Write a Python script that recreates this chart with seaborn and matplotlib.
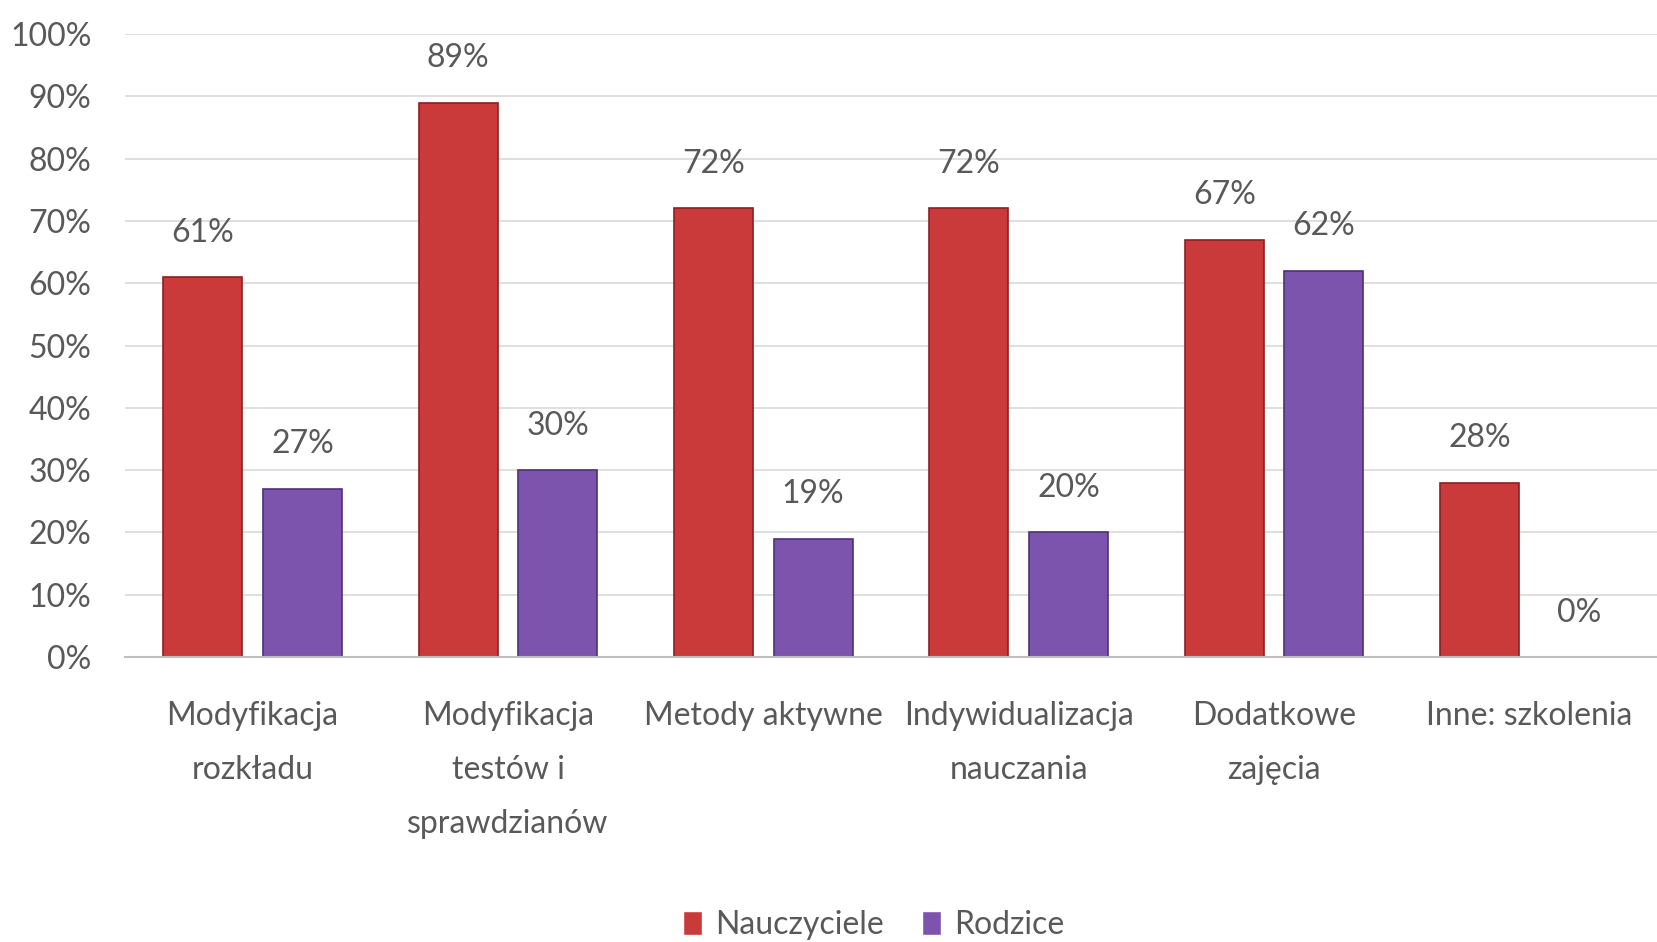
import pandas as pd
from matplotlib import pyplot as plt
import numpy as np
import seaborn as sns

# dane
kategorie = ["Modyfikacja\nrozkładu", "Modyfikacja\ntestów i\nsprawdzianów", "Metody aktywne",
             "Indywidualizacja\nnauczania", "Dodatkowe\nzajęcia", "Inne: szkolenia"]
nauczyciele = [0.61, 0.89, 0.72, 0.72, 0.67, 0.28]
rodzice = [0.27, 0.30, 0.19, 0.20, 0.62, 0.00]
serie = ["Nauczyciele", "Rodzice"]
kolory = ["#CB3A3A", "#7C54AE"]
krawedzie = ["#8E1F22", "#4E3275"]

df = pd.DataFrame({
    "kategoria": kategorie * 2,
    "seria": [serie[0]] * len(kategorie) + [serie[1]] * len(kategorie),
    "wartosc": nauczyciele + rodzice,
})

sns.set_style("white")
plt.rcParams["font.family"] = ["Lato", "DejaVu Sans"]
szary = "#595959"
fs = 23

fig = plt.figure(figsize=(16.57, 9.42), dpi=100)
ax = fig.add_axes([0.0754, 0.3025, 0.9246, 0.6614])

sns.barplot(data=df, x="kategoria", y="wartosc", hue="seria", palette=kolory,
            saturation=1, width=0.78, ax=ax, legend=True)

# zwęż słupki, zostaw odstęp
for i, cont in enumerate(ax.containers):
    for p, v in zip(cont.patches, [nauczyciele, rodzice][i]):
        c = p.get_x() + p.get_width() / 2
        p.set_width(0.31)
        p.set_x(c - 0.155)
        p.set_edgecolor(krawedzie[i])
        p.set_linewidth(1.2)
        ax.annotate(f"{v:.0%}", (c, v), xytext=(0, 32), textcoords="offset points",
                    ha="center", va="center", fontsize=fs, color=szary)

ax.set_ylim(0, 1.0)
ax.set_xlim(-0.5, 5.5)
ax.set_yticks(np.arange(0, 1.01, 0.1))
ax.set_yticklabels([f"{int(round(t*100))}%" for t in np.arange(0, 1.01, 0.1)], fontsize=fs, color=szary)
ax.tick_params(axis="y", length=0, pad=24)
ax.tick_params(axis="x", length=0, pad=32, labelsize=fs, labelcolor=szary)
for lab in ax.get_xticklabels():
    lab.set_linespacing(2.0)
    lab.set_va("top")
ax.yaxis.grid(True, color="#D9D9D9", linewidth=1.2)
ax.set_axisbelow(True)
for s in ["top", "right", "left"]:
    ax.spines[s].set_visible(False)
ax.spines["bottom"].set_color("#BFBFBF")
ax.spines["bottom"].set_linewidth(1.5)
ax.set_xlabel("")
ax.set_ylabel("")

ax.legend(loc="center", bbox_to_anchor=(0.4885, -0.43), bbox_transform=ax.transAxes,
          ncol=2, frameon=False, fontsize=fs, handlelength=0.6, handleheight=0.8,
          handletextpad=0.4, columnspacing=1.2, labelcolor=szary)

fig.savefig("out.png", dpi=100)
